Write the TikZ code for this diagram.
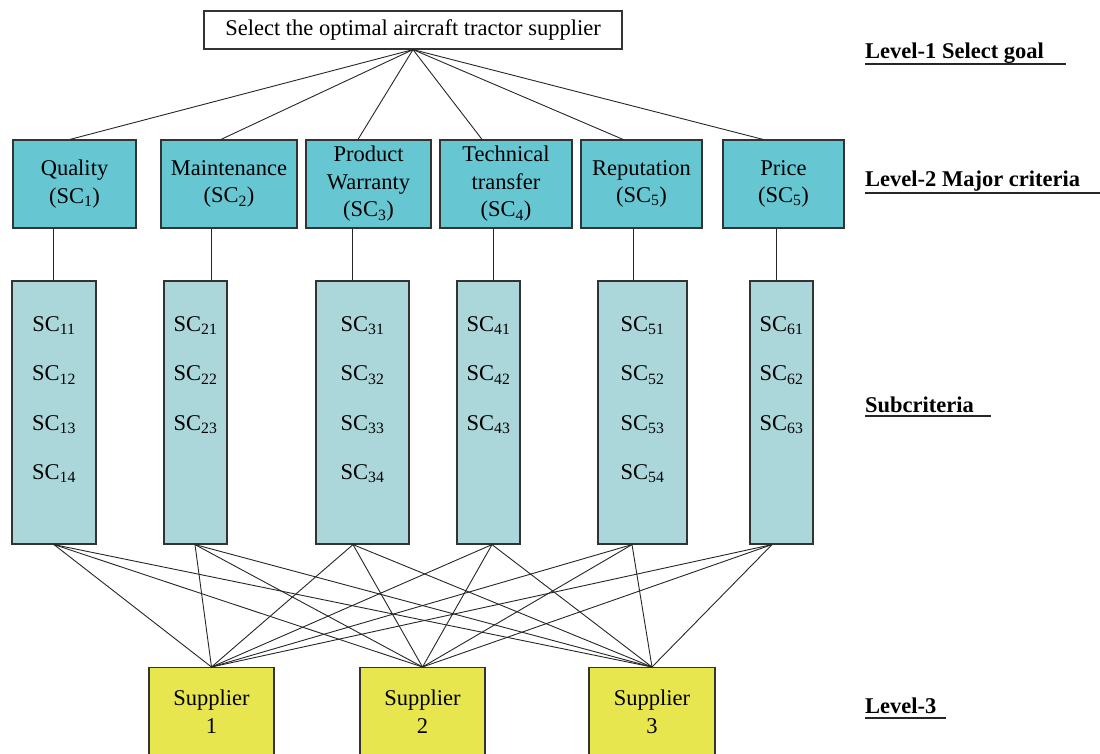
\documentclass[tikz,border=0pt]{standalone}
\usepackage{fontspec}
\setmainfont{Liberation Serif}
\definecolor{crit}{RGB}{102,199,211}
\definecolor{subcrit}{RGB}{171,215,219}
\definecolor{supp}{RGB}{232,230,78}
\definecolor{edge}{RGB}{51,51,51}
\usetikzlibrary{positioning}
\newcommand{\subc}[1]{SC\textsubscript{#1}}

\begin{document}
\begin{tikzpicture}[x=1pt, y=-1pt,
            font=\fontsize{22.5}{27.5}\selectfont,
            goalbox/.style={
                rectangle, draw=edge, line width=1.2pt, fill=white,
                minimum width=418pt, minimum height=38pt, inner sep=0pt
            },
            critbox/.style={
                rectangle, draw=edge, line width=1.2pt, fill=crit,
                minimum height=88pt, inner sep=0pt, align=center
            },
            subbox/.style={
                rectangle, draw=edge, line width=1.2pt, fill=subcrit,
                minimum height=263pt, inner sep=0pt
            },
            sclist/.style={inner sep=0pt, align=center, font=\fontsize{22.5}{49.3}\selectfont},
            suppbox/.style={
                rectangle, draw=edge, line width=1.2pt, fill=supp, anchor=north,
                minimum height=88pt, inner sep=0pt, align=center
            },
            level/.style={anchor=base west, inner sep=0pt, font=\fontsize{22.5}{27}\selectfont\bfseries},
            rule/.style={line width=1.3pt, draw=black!85},
            link/.style={line width=0.9pt, draw=black!85},
        ]
            \useasboundingbox (0,0) rectangle (1100,754);

            % level 1
            \node [goalbox] (goal) at (413,30) {Select the optimal aircraft tractor supplier};

            % level 2
            \node [critbox, minimum width=123pt] (q)  at (74.5,184)  {Quality\\(\subc{1})};
            \node [critbox, minimum width=136pt] (m)  at (229,184)   {Maintenance\\(\subc{2})};
            \node [critbox, minimum width=125pt] (pw) at (368.5,184) {Product\\Warranty\\(\subc{3})};
            \node [critbox, minimum width=132pt] (tt) at (506,184)   {Technical\\transfer\\(\subc{4})};
            \node [critbox, minimum width=121pt] (r)  at (641.5,184) {Reputation\\(\subc{5})};
            \node [critbox, minimum width=121pt] (pr) at (783.5,184) {Price\\(\subc{5})};

            % subcriteria
            \node [subbox, minimum width=84pt] (s1) at (54,412.5)    {};
            \node [subbox, minimum width=63pt] (s2) at (195.5,412.5) {};
            \node [subbox, minimum width=93pt] (s3) at (362.5,412.5) {};
            \node [subbox, minimum width=63pt] (s4) at (488.5,412.5) {};
            \node [subbox, minimum width=89pt] (s5) at (642.5,412.5) {};
            \node [subbox, minimum width=63pt] (s6) at (781.5,412.5) {};

            \node [sclist, below=36pt of s1.north] (l1) {\subc{11}\\\subc{12}\\\subc{13}\\\subc{14}};
            \node [sclist, below=36pt of s2.north] (l2) {\subc{21}\\\subc{22}\\\subc{23}};
            \node [sclist, below=36pt of s3.north] (l3) {\subc{31}\\\subc{32}\\\subc{33}\\\subc{34}};
            \node [sclist, below=36pt of s4.north] (l4) {\subc{41}\\\subc{42}\\\subc{43}};
            \node [sclist, below=36pt of s5.north] (l5) {\subc{51}\\\subc{52}\\\subc{53}\\\subc{54}};
            \node [sclist, below=36pt of s6.north] (l6) {\subc{61}\\\subc{62}\\\subc{63}};

            % level 3
            \node [suppbox, minimum width=125pt] (p1) at (211.5,667) {Supplier\\1};
            \node [suppbox, minimum width=125pt] (p2) at (422.5,667) {Supplier\\2};
            \node [suppbox, minimum width=126pt] (p3) at (652,667)   {Supplier\\3};

            % level captions
            \node [level] (lv1) at (865,59)  {Level-1 Select goal};
            \node [level] (lv2) at (865,187) {Level-2 Major criteria};
            \node [level] (lv3) at (865,412) {Subcriteria};
            \node [level] (lv4) at (865,713) {Level-3};
            \draw[rule] ([yshift=-5pt]lv1.base west) -- ++(201,0);
            \draw[rule] ([yshift=-6pt]lv2.base west) -- ++(235,0);
            \draw[rule] ([yshift=-4pt]lv3.base west) -- ++(126,0);
            \draw[rule] ([yshift=-5pt]lv4.base west) -- ++(81,0);

            \draw[link] (goal.south) -- ([xshift=-4.5pt]q.north);
            \draw[link] (goal.south) -- ([xshift=-8pt]m.north);
            \draw[link] (goal.south) -- ([xshift=-10.5pt]pw.north);
            \draw[link] (goal.south) -- ([xshift=-24pt]tt.north);
            \draw[link] (goal.south) -- ([xshift=-18.5pt]r.north);
            \draw[link] (goal.south) -- ([xshift=-20.5pt]pr.north);

            \draw[link] ([xshift=-21.5pt]q.south) -- ([xshift=-21.5pt]q.south |- s1.north);
            \draw[link] ([xshift=-18pt]m.south) -- ([xshift=-18pt]m.south |- s2.north);
            \draw[link] ([xshift=-16.5pt]pw.south) -- ([xshift=-16.5pt]pw.south |- s3.north);
            \draw[link] ([xshift=-13pt]tt.south) -- ([xshift=-13pt]tt.south |- s4.north);
            \draw[link] ([xshift=-8.5pt]r.south) -- ([xshift=-8.5pt]r.south |- s5.north);
            \draw[link] ([xshift=-7.5pt]pr.south) -- ([xshift=-7.5pt]pr.south |- s6.north);

            \foreach \s/\dx in {s1/0, s2/-0.5, s3/-9.5, s4/3.5, s5/-10.5, s6/-9.5}
                \foreach \p in {p1,p2,p3}
                    \draw[link] ([xshift=\dx pt]\s.south) -- (\p.north);

        \end{tikzpicture}
\end{document}
